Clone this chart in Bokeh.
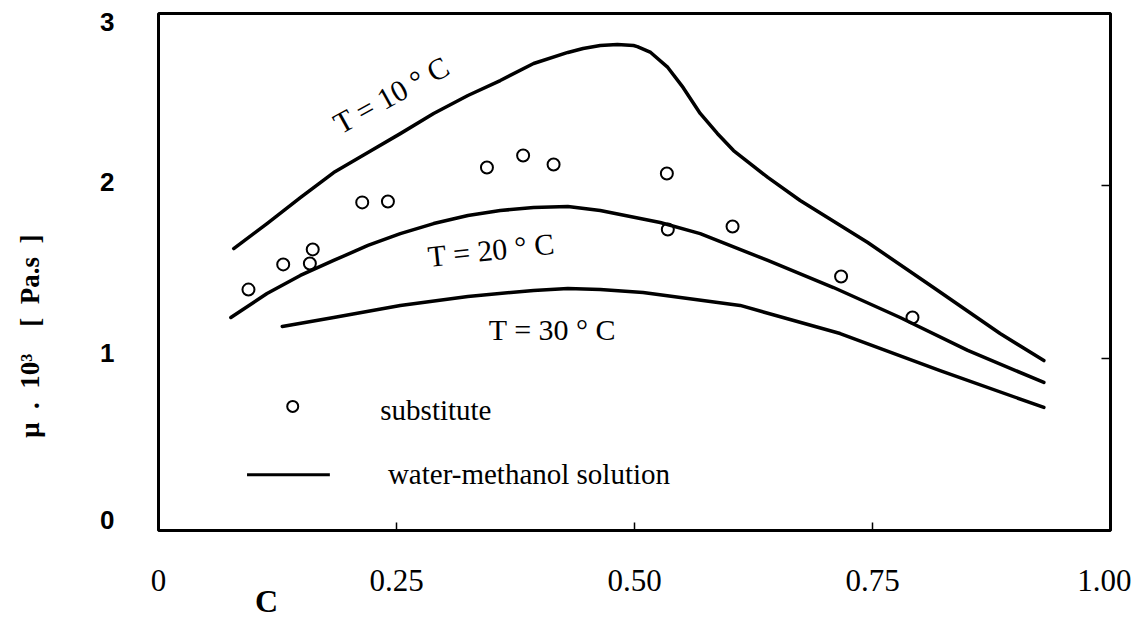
from bokeh.plotting import figure
from bokeh.models import FixedTicker, LinearAxis, Label, Range1d
from bokeh.embed import file_html
from bokeh.resources import INLINE

# ---- data ----
c_t10 = [0.079, 0.114, 0.149, 0.184, 0.220, 0.254, 0.289, 0.325, 0.359, 0.394, 0.430, 0.446,
         0.464, 0.482, 0.499, 0.503, 0.517, 0.535, 0.551, 0.569, 0.587, 0.604, 0.640, 0.674,
         0.745, 0.814, 0.884, 0.930]
mu_t10 = [1.636, 1.781, 1.932, 2.077, 2.193, 2.303, 2.420, 2.524, 2.611, 2.710, 2.774, 2.797,
          2.814, 2.820, 2.814, 2.808, 2.774, 2.687, 2.571, 2.420, 2.304, 2.205, 2.049, 1.915,
          1.671, 1.410, 1.143, 0.986]

c_t20 = [0.076, 0.114, 0.149, 0.184, 0.220, 0.254, 0.289, 0.325, 0.359, 0.394, 0.430, 0.464,
         0.527, 0.569, 0.640, 0.709, 0.779, 0.850, 0.930]
mu_t20 = [1.236, 1.375, 1.480, 1.567, 1.654, 1.723, 1.781, 1.828, 1.857, 1.874, 1.880, 1.857,
          1.787, 1.723, 1.567, 1.410, 1.236, 1.045, 0.859]

c_t30 = [0.130, 0.184, 0.254, 0.325, 0.394, 0.430, 0.464, 0.509, 0.611, 0.716, 0.821, 0.930]
mu_t30 = [1.184, 1.236, 1.306, 1.358, 1.393, 1.404, 1.398, 1.381, 1.306, 1.143, 0.928, 0.714]

sub_c = [0.0945, 0.131, 0.159, 0.162, 0.214, 0.241, 0.345, 0.383, 0.415, 0.534, 0.535, 0.603, 0.717, 0.792]
sub_mu = [1.398, 1.544, 1.549, 1.631, 1.904, 1.909, 2.106, 2.176, 2.124, 2.072, 1.747, 1.764, 1.474, 1.236]

x_ticks = [0, 0.25, 0.5, 0.75, 1.0]
x_tick_labels = ["0", "0.25", "0.50", "0.75", "1.00"]
y_ticks = [0, 1, 2, 3]
y_tick_labels = ["0", "1", "2", "3"]

SERIF = "Liberation Serif"
SANS = "Liberation Sans"
NB = "\u00a0"

# where the reference prints its (hand-placed) y tick labels
y_label_pos = [0.06, 1.03, 2.02, 2.95]

p = figure(width=1131, height=621, x_range=Range1d(0, 1), y_range=Range1d(0, 3),
           output_backend="svg", toolbar_location=None,
           min_border_left=158, min_border_right=21, min_border_top=13, min_border_bottom=91,
           x_axis_location=None, y_axis_location=None)
p.grid.visible = False
p.outline_line_color = "black"
p.outline_line_width = 3
p.background_fill_color = "white"
p.border_fill_color = "white"

# bottom axis
xa = LinearAxis(ticker=FixedTicker(ticks=x_ticks),
                major_label_overrides={t: l for t, l in zip(x_ticks, x_tick_labels)})
xa.axis_line_color = None
xa.major_tick_in = 8
xa.major_tick_out = 0
xa.major_tick_line_width = 1.5
xa.minor_tick_line_color = None
xa.major_label_standoff = 39
xa.major_label_text_font = SERIF
xa.major_label_text_font_size = "31px"
xa.major_label_text_color = "black"
xa.axis_label = "C" + NB * 92
xa.axis_label_text_font = SERIF
xa.axis_label_text_font_style = "bold"
xa.axis_label_text_font_size = "32px"
xa.axis_label_text_color = "black"
xa.axis_label_standoff = -11
p.add_layout(xa, "below")

# left axis (labels only)
ya = LinearAxis(ticker=FixedTicker(ticks=y_label_pos),
                major_label_overrides={t: l for t, l in zip(y_label_pos, y_tick_labels)})
ya.axis_line_color = None
ya.major_tick_line_color = None
ya.minor_tick_line_color = None
ya.major_label_standoff = 38
ya.major_label_text_font = SANS
ya.major_label_text_font_style = "bold"
ya.major_label_text_font_size = "26px"
ya.major_label_text_color = "black"
ya.axis_label = ("\u03bc" + NB * 2 + "." + NB * 2 + "10\u00b3" + NB * 4 + "[" + NB * 2
                 + "Pa.s" + NB * 2 + "]" + NB * 19)
ya.axis_label_text_font = SERIF
ya.axis_label_text_font_style = "bold"
ya.axis_label_text_font_size = "27px"
ya.axis_label_text_color = "black"
ya.axis_label_standoff = 52
p.add_layout(ya, "left")

# right axis (inward ticks only)
ra = LinearAxis(ticker=FixedTicker(ticks=y_ticks),
                major_label_overrides={t: "" for t in y_ticks})
ra.axis_line_color = None
ra.major_tick_in = 9
ra.major_tick_out = 0
ra.major_tick_line_width = 1.5
ra.minor_tick_line_color = None
ra.major_label_standoff = 0
ra.major_label_text_font_size = "1px"
p.add_layout(ra, "right")

# curves
for cx, my in [(c_t10, mu_t10), (c_t20, mu_t20), (c_t30, mu_t30)]:
    p.line(cx, my, line_color="black", line_width=3.5, line_join="round", line_cap="round")

# substitute points
p.scatter(sub_c, sub_mu, marker="circle", size=12, fill_color=None,
          line_color="black", line_width=2)

# legend (hand-drawn style)
p.scatter([0.141], [0.72], marker="circle", size=11, fill_color=None,
          line_color="black", line_width=2)
p.line([0.093, 0.180], [0.323, 0.323], line_color="black", line_width=3)

def lab(x, y, text, size="29px", angle=0, font=SERIF, style="normal", align="left",
        baseline="alphabetic"):
    p.add_layout(Label(x=x, y=y, text=text, angle=angle, angle_units="deg",
                       text_font=font, text_font_size=size, text_font_style=style,
                       text_align=align, text_baseline=baseline, text_color="black"))

lab(0.233, 0.70, "substitute")
lab(0.241, 0.325, "water-methanol solution")

# curve labels
lab(0.186, 2.35, "T = 10 \u00b0 C", size="30px", angle=29)
lab(0.283, 1.59, "T = 20 \u00b0 C", size="30px", angle=6)
lab(0.347, 1.165, "T = 30 \u00b0 C", size="30px")

open("out.html", "w").write(file_html(p, INLINE))
